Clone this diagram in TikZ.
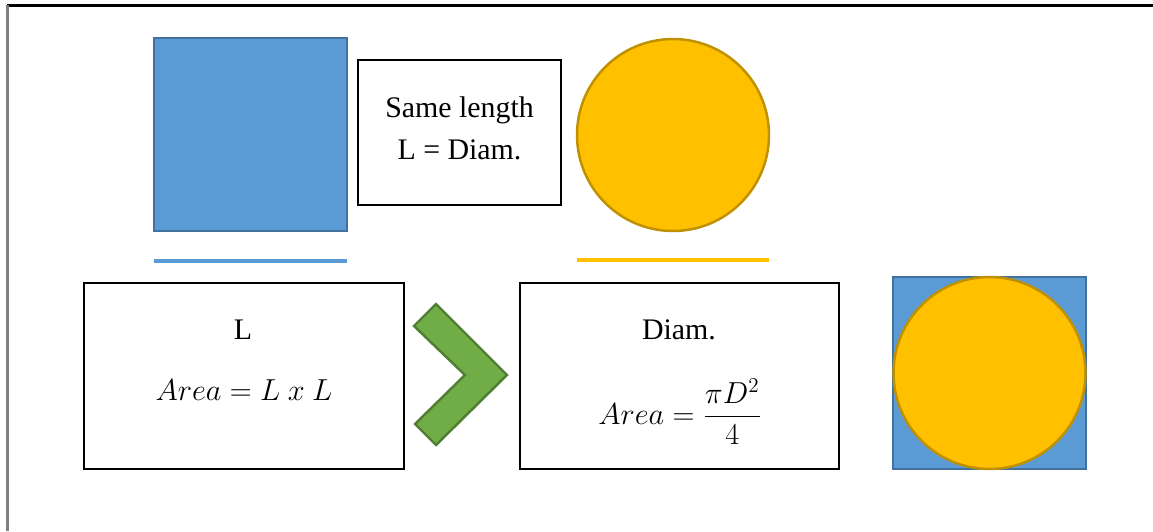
\documentclass[tikz,border=0pt]{standalone}
\usepackage{amsmath}
\usepackage{fontspec}
\setmainfont{LiberationSerif}[Extension=.ttf,UprightFont=*-Regular,BoldFont=*-Bold,ItalicFont=*-Italic]
\definecolor{sqblue}{HTML}{5B9BD5}
\definecolor{sqblueb}{HTML}{41719C}
\definecolor{cyel}{HTML}{FFC000}
\definecolor{cyelb}{HTML}{BF9000}
\definecolor{chgreen}{HTML}{70AD47}
\definecolor{chgreenb}{HTML}{507E32}
\tikzset{
  sq/.style={fill=sqblue,draw=sqblueb,line width=1.4pt},
  circ/.style={fill=cyel,draw=cyelb,line width=1.4pt},
  txtbox/.style={draw=black,line width=0.6pt,fill=white},
  lbl/.style={font=\fontsize{17}{22}\selectfont,align=center,inner sep=0pt},
  chev/.style={fill=chgreen,draw=chgreenb,line width=1.4pt,line join=miter},
}
\begin{document}
\begin{tikzpicture}[x=0.02cm,y=-0.02cm]
\useasboundingbox (0,0) rectangle (1153,531);
% frame lines
\draw[black,line width=1.6pt] (7,5.5) -- (1153,5.5);
\draw[gray,line width=1.4pt] (7.5,5) -- (7.5,531);
% top row
\node[sq,rectangle,minimum size=193*0.02cm,inner sep=0pt] (bsq) at (250.5,134.5) {};
\node[txtbox,minimum width=203*0.02cm,minimum height=145*0.02cm] (same) at (459.5,132.5) {};
\node[lbl] (sametxt) at (459.5,128) {Same length\\[2pt]L = Diam.};
\node[circ,circle,minimum size=192*0.02cm,inner sep=0pt] (c1) at (673,135) {};
% underlines
\coordinate (bl1) at (154,261); \coordinate (bl2) at (347,261);
\draw[sqblue,line width=2.8pt] (bl1) -- (bl2);
\coordinate (yl1) at (577,260); \coordinate (yl2) at (769,260);
\draw[cyel,line width=2.8pt] (yl1) -- (yl2);
% bottom boxes
\node[txtbox,minimum width=320*0.02cm,minimum height=186*0.02cm] (boxL) at (244,376) {};
\node[lbl] (Ltxt) at (243,330) {L};
\node[lbl] (Lform) at (244,390) {$Area = L\ x\ L$};
\node[txtbox,minimum width=319*0.02cm,minimum height=186*0.02cm] (boxD) at (679.5,376) {};
\node[lbl] (Dtxt) at (679,330) {Diam.};
\node[lbl] (Dform) at (680,412) {$Area = \dfrac{\pi D^2}{4}$};
% chevron
\draw[chev] (414,326) -- (436,304) -- (507,375) -- (436,445) -- (415,424) -- (465,375) -- cycle;
% right: square with inscribed circle
\node[sq,rectangle,minimum width=193*0.02cm,minimum height=192*0.02cm,inner sep=0pt] (bsq2) at (989.5,373) {};
\node[circ,circle,minimum size=192*0.02cm,inner sep=0pt] (c2) at (989.5,373) {};
\end{tikzpicture}
\end{document}
